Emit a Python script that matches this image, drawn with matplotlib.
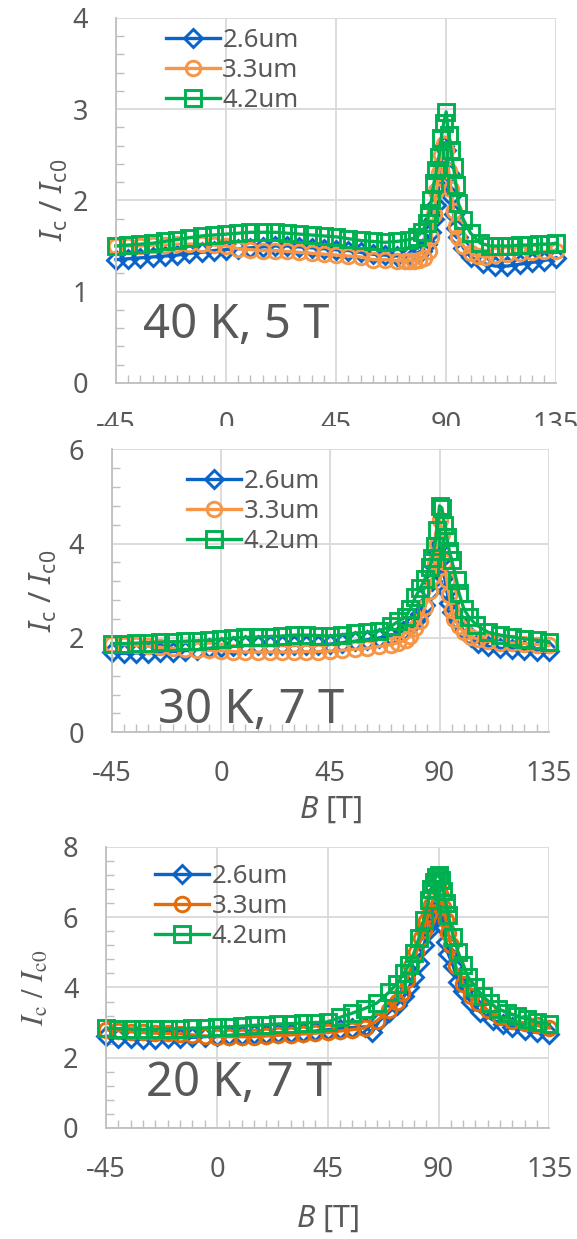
import matplotlib
matplotlib.use("Agg")
import matplotlib.pyplot as plt
from matplotlib.patches import Rectangle
from matplotlib.ticker import MultipleLocator

plt.rcParams["font.family"] = ["Noto Sans", "DejaVu Sans"]
plt.rcParams["axes.unicode_minus"] = False
plt.rcParams["mathtext.fontset"] = "custom"
plt.rcParams["mathtext.rm"] = "Noto Sans"
plt.rcParams["mathtext.it"] = "Noto Sans:italic"

GRAY_TXT = "#595959"
labels = ["2.6um", "3.3um", "4.2um"]
markers = ["D", "o", "s"]
x_ticks = [-45, 0, 45, 90, 135]

# ---- 40 K, 5 T ----
b1_x = [-45, -40, -35, -30, -25, -20, -15, -10, -5, 0, 5, 10, 15, 20, 25, 30, 35, 40, 45, 50, 55, 60, 65, 70,
        75, 78, 80, 82, 84, 85, 86, 87, 88, 89, 90, 91, 92, 93, 94, 95, 97, 100, 105, 110, 115, 120, 125, 130, 135]
b1_y = [1.35, 1.36, 1.37, 1.38, 1.39, 1.40, 1.42, 1.43, 1.45, 1.46, 1.47, 1.48, 1.49, 1.50, 1.50, 1.49, 1.48,
        1.47, 1.46, 1.45, 1.43, 1.41, 1.40, 1.39, 1.40, 1.42, 1.45, 1.52, 1.65, 1.80, 1.95, 2.15, 2.40, 2.60,
        2.55, 2.30, 2.05, 1.85, 1.70, 1.60, 1.48, 1.38, 1.31, 1.28, 1.28, 1.30, 1.32, 1.34, 1.37]
o1_x = [-45, -40, -35, -30, -25, -20, -15, -10, -5, 0, 5, 10, 15, 20, 25, 30, 35, 40, 45, 50, 55, 60, 65, 70,
        73, 75, 77, 79, 81, 83, 84, 85, 86, 87, 88, 89, 90, 91, 92, 93, 94, 95, 97, 100, 103, 106, 110, 115,
        120, 125, 130, 135]
o1_y = [1.50, 1.50, 1.50, 1.51, 1.51, 1.52, 1.52, 1.52, 1.51, 1.50, 1.47, 1.46, 1.45, 1.45, 1.44, 1.43, 1.42,
        1.41, 1.40, 1.39, 1.38, 1.35, 1.35, 1.34, 1.34, 1.34, 1.34, 1.35, 1.37, 1.45, 1.60, 1.85, 2.10, 2.30,
        2.50, 2.62, 2.55, 2.32, 2.12, 1.88, 1.72, 1.60, 1.50, 1.42, 1.39, 1.38, 1.40, 1.41, 1.42, 1.43, 1.44,
        1.45]
g1_x = [-45, -40, -35, -30, -25, -20, -15, -10, -5, 0, 5, 10, 15, 20, 25, 30, 35, 40, 45, 50, 55, 60, 65, 70,
        75, 78, 80, 82, 83, 84, 85, 86, 87, 88, 89, 90, 91, 92, 93, 94, 95, 97, 100, 104, 108, 112, 116, 120,
        124, 128, 132, 135]
g1_y = [1.50, 1.51, 1.52, 1.53, 1.55, 1.57, 1.59, 1.61, 1.62, 1.63, 1.64, 1.65, 1.65, 1.65, 1.64, 1.63, 1.62,
        1.61, 1.60, 1.58, 1.56, 1.55, 1.54, 1.55, 1.57, 1.60, 1.65, 1.75, 1.86, 2.00, 2.19, 2.33, 2.47, 2.68,
        2.85, 2.97, 2.72, 2.55, 2.37, 2.17, 1.97, 1.79, 1.64, 1.53, 1.50, 1.50, 1.50, 1.51, 1.51, 1.52, 1.52,
        1.53]

# ---- 30 K, 7 T ----
b2_x = [-45, -40, -35, -30, -25, -20, -15, -10, -5, 0, 5, 10, 15, 20, 25, 30, 35, 40, 45, 50, 55, 60, 65, 70,
        75, 78, 80, 82, 84, 86, 87, 88, 89, 90, 91, 92, 93, 94, 95, 97, 100, 103, 106, 110, 115, 120, 125, 130,
        135]
b2_y = [1.70, 1.67, 1.68, 1.69, 1.70, 1.71, 1.73, 1.75, 1.78, 1.80, 1.82, 1.84, 1.84, 1.84, 1.84, 1.84, 1.85,
        1.86, 1.87, 1.90, 1.93, 1.96, 2.00, 2.05, 2.15, 2.25, 2.35, 2.50, 2.70, 3.00, 3.20, 3.50, 3.80, 4.00,
        3.70, 3.30, 3.00, 2.75, 2.55, 2.37, 2.15, 2.01, 1.90, 1.82, 1.78, 1.77, 1.75, 1.73, 1.72]
o2_x = [-45, -40, -35, -30, -25, -20, -15, -10, -5, 0, 5, 10, 15, 20, 25, 30, 35, 40, 45, 50, 55, 60, 65, 70,
        73, 76, 78, 80, 82, 84, 86, 87, 88, 89, 90, 91, 92, 93, 94, 95, 96, 98, 100, 103, 106, 110, 115, 120,
        125, 130, 135]
o2_y = [1.88, 1.86, 1.84, 1.82, 1.80, 1.78, 1.76, 1.75, 1.74, 1.73, 1.71, 1.70, 1.70, 1.70, 1.70, 1.70, 1.71,
        1.71, 1.72, 1.74, 1.76, 1.78, 1.82, 1.86, 1.90, 1.95, 2.05, 2.20, 2.35, 2.65, 3.00, 3.30, 3.60, 4.00,
        4.50, 4.20, 3.60, 3.22, 2.90, 2.60, 2.40, 2.25, 2.12, 2.02, 1.97, 1.93, 1.90, 1.89, 1.88, 1.86, 1.84]
g2_x = [-45, -40, -35, -30, -25, -20, -15, -10, -5, 0, 5, 10, 15, 20, 25, 30, 35, 40, 45, 50, 55, 60, 65, 70,
        73, 76, 78, 80, 82, 84, 86, 87, 88, 89, 90, 91, 92, 93, 94, 95, 97, 98, 100, 102, 105, 110, 115, 120,
        125, 130, 135]
g2_y = [1.88, 1.88, 1.89, 1.90, 1.91, 1.92, 1.93, 1.94, 1.95, 1.97, 2.00, 2.01, 2.02, 2.03, 2.04, 2.06, 2.06,
        2.05, 2.04, 2.07, 2.10, 2.12, 2.15, 2.25, 2.35, 2.44, 2.62, 2.86, 3.05, 3.25, 3.50, 3.70, 3.95, 4.28,
        4.80, 4.75, 4.40, 4.13, 3.85, 3.65, 3.22, 2.95, 2.62, 2.45, 2.28, 2.12, 2.06, 2.02, 1.98, 1.95, 1.92]

# ---- 20 K, 7 T ----
b3_x = [-45, -40, -35, -30, -25, -20, -15, -10, -5, 0, 5, 10, 15, 20, 25, 30, 35, 40, 45, 50, 55, 60, 63, 66,
        70, 73, 76, 78, 80, 82, 84, 86, 87, 88, 89, 90, 91, 92, 93, 94, 96, 98, 100, 103, 107, 112, 116, 120,
        125, 130, 135]
b3_y = [2.62, 2.56, 2.55, 2.54, 2.54, 2.55, 2.57, 2.58, 2.60, 2.62, 2.64, 2.66, 2.67, 2.68, 2.69, 2.70, 2.73,
        2.76, 2.80, 2.83, 2.86, 2.88, 2.73, 3.05, 3.30, 3.50, 3.75, 4.00, 4.30, 4.70, 5.20, 5.65, 5.85, 6.05,
        6.20, 6.30, 6.05, 5.75, 5.30, 4.95, 4.60, 4.15, 3.90, 3.60, 3.30, 3.08, 2.95, 2.88, 2.80, 2.72, 2.68]
o3_x = [-45, -40, -35, -30, -25, -20, -15, -10, -5, 0, 5, 10, 15, 20, 25, 30, 35, 40, 45, 50, 55, 60, 65, 70,
        73, 75, 77, 79, 81, 83, 84, 85, 86, 87, 88, 89, 90, 91, 92, 93, 94, 95, 97, 100, 103, 106, 110, 115,
        120, 125, 130, 135]
o3_y = [2.80, 2.77, 2.74, 2.72, 2.70, 2.69, 2.68, 2.65, 2.62, 2.60, 2.60, 2.60, 2.60, 2.62, 2.64, 2.65, 2.68,
        2.70, 2.72, 2.76, 2.80, 2.85, 3.05, 3.36, 3.60, 3.85, 4.20, 4.60, 5.00, 5.40, 5.64, 5.90, 6.10, 6.35,
        6.55, 6.70, 6.80, 6.60, 6.30, 5.93, 5.55, 5.20, 4.60, 4.10, 3.75, 3.55, 3.35, 3.16, 3.05, 2.99, 2.92,
        2.85]
g3_x = [-45, -40, -35, -30, -25, -20, -15, -10, -5, 0, 5, 10, 15, 20, 25, 30, 35, 40, 45, 50, 55, 60, 65, 70,
        73, 76, 78, 80, 82, 84, 86, 87, 88, 89, 90, 91, 92, 93, 94, 96, 98, 100, 102, 105, 108, 111, 114, 118,
        122, 126, 130, 135]
g3_y = [2.84, 2.83, 2.82, 2.81, 2.81, 2.82, 2.83, 2.84, 2.85, 2.87, 2.88, 2.90, 2.92, 2.94, 2.96, 2.97, 2.99,
        3.00, 3.02, 3.15, 3.27, 3.40, 3.56, 3.87, 4.10, 4.41, 4.65, 4.98, 5.40, 5.93, 6.50, 6.80, 7.00, 7.15,
        7.20, 7.05, 6.75, 6.41, 6.05, 5.44, 5.00, 4.65, 4.30, 4.02, 3.75, 3.56, 3.40, 3.28, 3.18, 3.10, 3.02,
        2.95]

fig = plt.figure(figsize=(5.77, 12.39), dpi=100)
ax1 = fig.add_axes([0.201, 0.691, 0.763, 0.2946])
ax2 = fig.add_axes([0.194, 0.409, 0.757, 0.2284])
ax3 = fig.add_axes([0.184, 0.0896, 0.768, 0.2268])
# the lower panels sit on top of the first panel's clipped x tick labels
fig.add_artist(Rectangle((0, 0), 1, 1 - 426 / 1239, transform=fig.transFigure,
                         facecolor="white", edgecolor="none", zorder=0.5))
ax2.set_zorder(1)
ax3.set_zorder(1)


def draw_panel(ax, series, colors, ymax, ystep, yminor, note, note_xy, leg_xy, ylab_x,
               ylabel, ylab_kw, xlabel_y=None):
    for (xs, ys), c, m, lab in zip(series, colors, markers, labels):
        ms = 9 if m == "D" else (10.5 if m == "o" else 11.5)
        ax.plot(xs, ys, color=c, lw=2.4, marker=m, ms=ms, mfc="none", mew=2.1,
                clip_on=False, label=lab)
    ax.set_xlim(-45, 135)
    ax.set_ylim(0, ymax)
    ax.set_xticks(x_ticks)
    ax.yaxis.set_major_locator(MultipleLocator(ystep))
    ax.xaxis.set_minor_locator(MultipleLocator(5))
    ax.yaxis.set_minor_locator(MultipleLocator(yminor))
    ax.grid(True, which="major", color="#D9D9D9", lw=1.3)
    ax.set_axisbelow(True)
    for s in ("top", "right"):
        ax.spines[s].set_visible(False)
    for s in ("left", "bottom"):
        ax.spines[s].set_color("#BFBFBF")
        ax.spines[s].set_linewidth(1.3)
    ax.tick_params(which="major", length=0, pad=20, labelsize=19.5, labelcolor=GRAY_TXT)
    ax.tick_params(which="minor", direction="in", length=6, width=1, color="#BFBFBF")
    ax.text(note_xy[0], note_xy[1], note, fontsize=34, color=GRAY_TXT, ha="left", va="baseline")
    ax.legend(loc="upper left", bbox_to_anchor=leg_xy, frameon=False, fontsize=18.5,
              handlelength=2.1, handletextpad=0.1, labelspacing=0.2, borderpad=0,
              borderaxespad=0, labelcolor=GRAY_TXT)
    ax.set_ylabel(ylabel, fontsize=22, color=GRAY_TXT, **ylab_kw)
    ax.yaxis.set_label_coords(ylab_x, 0.5)
    if xlabel_y is not None:
        ax.set_xlabel(r"$B$ [T]", fontsize=22, color=GRAY_TXT)
        ax.xaxis.set_label_coords(0.5, xlabel_y)


ylab_sans = r"$I_{\mathrm{c}}$ / $I_{\mathrm{c0}}$"
ylab_serif = r"$I_{\mathrm{c}}\ /\ I_{\mathrm{c0}}$"
light = ["#0A64C8", "#F79646", "#00B050"]
dark = ["#0A64C8", "#E46C0A", "#00B050"]

draw_panel(ax1, [(b1_x, b1_y), (o1_x, o1_y), (g1_x, g1_y)], light, 4, 1, 0.2,
           "40 K, 5 T", (-34, 0.49), (0.113, 0.972), -0.104, ylab_sans, {})
draw_panel(ax2, [(b2_x, b2_y), (o2_x, o2_y), (g2_x, g2_y)], light, 6, 2, 0.4,
           "30 K, 7 T", (-26, 0.2), (0.172, 0.93), -0.121, ylab_sans, {}, xlabel_y=-0.22)
draw_panel(ax3, [(b3_x, b3_y), (o3_x, o3_y), (g3_x, g3_y)], dark, 8, 2, 0.4,
           "20 K, 7 T", (-28.7, 0.9), (0.11, 0.94), -0.126, ylab_serif,
           {"math_fontfamily": "stix"}, xlabel_y=-0.27)

fig.savefig("out.png", dpi=100)
